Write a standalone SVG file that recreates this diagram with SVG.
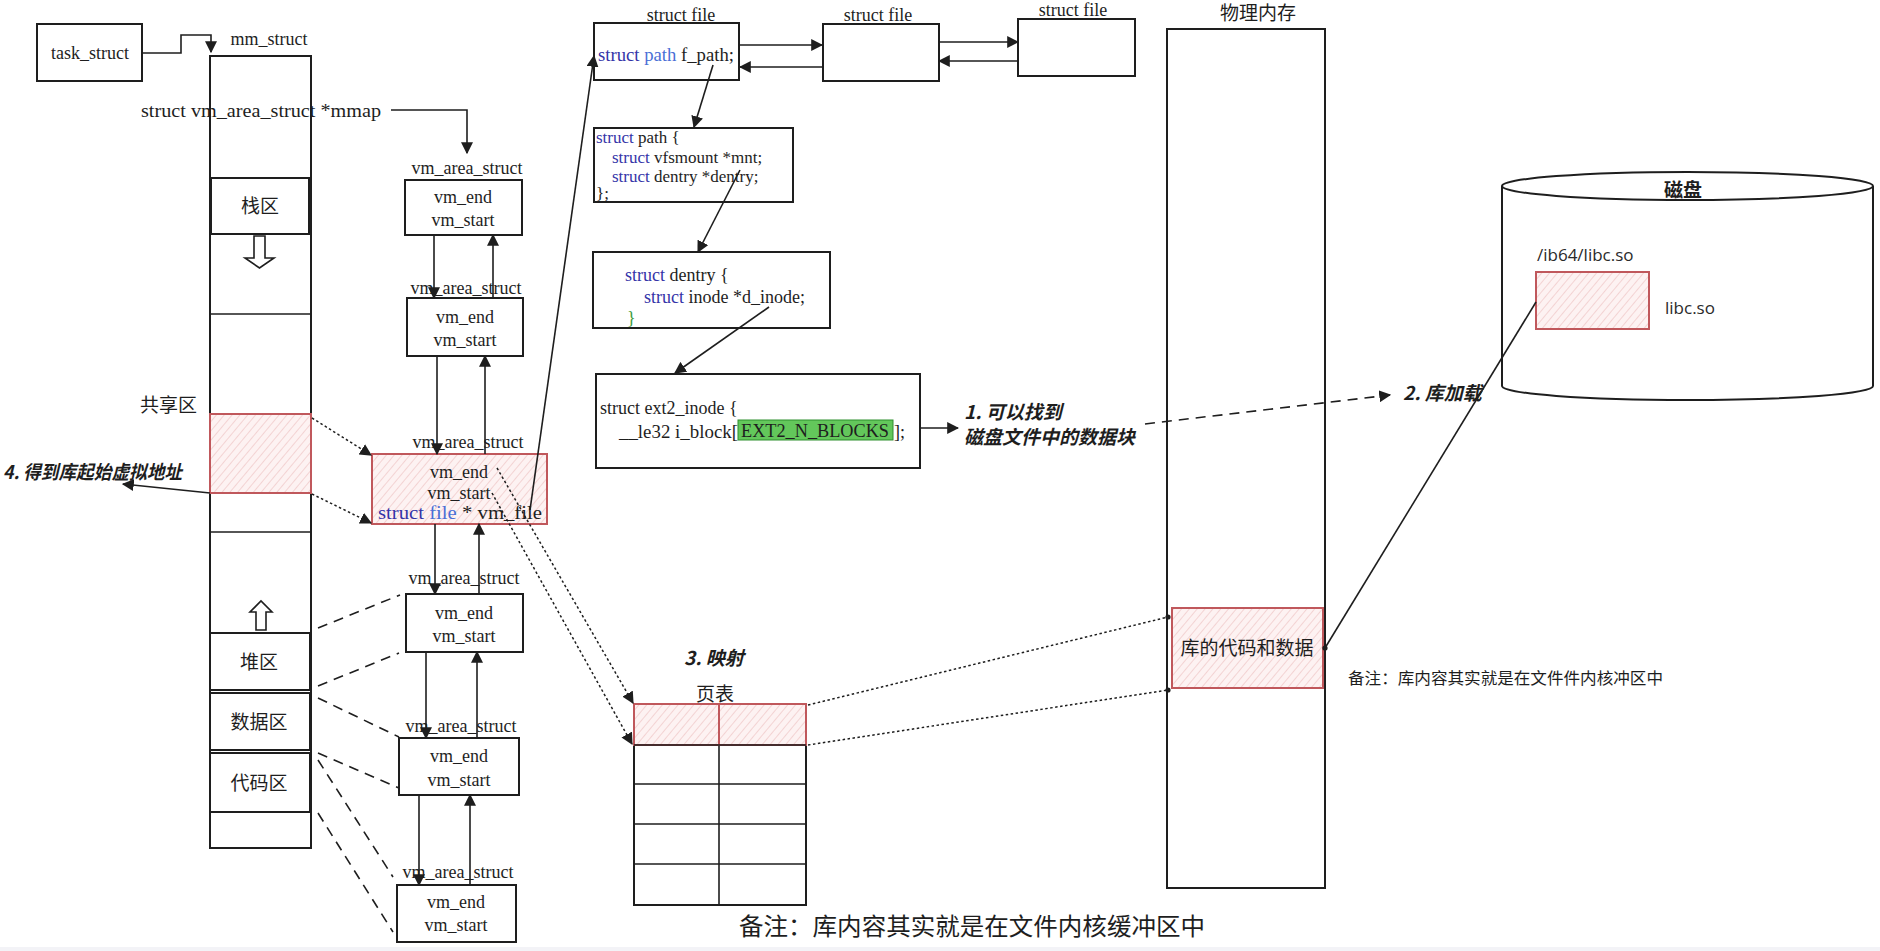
<svg xmlns="http://www.w3.org/2000/svg" width="1880" height="951" viewBox="0 0 1880 951">
<style>
.t{font-family:"Liberation Serif",serif;font-size:18px;fill:#1e1e1e}
.k{font-family:"Liberation Serif",serif;font-size:17px;fill:#1e1e1e}
.c{font-family:"Noto Sans CJK SC",sans-serif;font-size:19px;fill:#1e1e1e}
.b{font-family:"Noto Sans CJK SC",sans-serif;font-size:19px;font-weight:bold;font-style:italic;fill:#1e1e1e}
.o{font-family:"Open Sans",sans-serif;font-size:17px;fill:#2a2a2a}
.box{fill:#fff;stroke:#1e1e1e;stroke-width:2}
.red{fill:url(#hatch);stroke:#c0585c;stroke-width:2}
.ln{stroke:#1e1e1e;stroke-width:1.6;fill:none}
.dash{stroke-dasharray:10 7}
.dot{stroke-dasharray:2.5 2.5;stroke-width:1.5}
.kw{fill:#3434a8}
.ty{fill:#4a6fd6}
</style>
<defs>
<pattern id="hatch" patternUnits="userSpaceOnUse" width="6" height="6" patternTransform="rotate(40)">
<rect width="6" height="6" fill="#fdf2f2"/>
<line x1="0" y1="0" x2="0" y2="6" stroke="#f0c6c6" stroke-width="1.4"/>
</pattern>
<marker id="ah" markerUnits="userSpaceOnUse" markerWidth="12" markerHeight="12" viewBox="0 0 10 10" refX="9" refY="5" orient="auto">
<path d="M0,0 L10,5 L0,10 z" fill="#1e1e1e"/>
</marker>
<marker id="dt" markerUnits="userSpaceOnUse" markerWidth="6" markerHeight="6" viewBox="0 0 6 6" refX="3" refY="3">
<circle cx="3" cy="3" r="2.6" fill="#1e1e1e"/>
</marker>
</defs>
<rect width="1880" height="951" fill="#fff"/>
<rect y="947" width="1880" height="4" fill="#f3f3f7"/>

<g id="task_struct">
<rect class="box" x="37" y="24" width="105" height="57"/>
<text class="t" x="90" y="59" text-anchor="middle">task_struct</text>
</g>

<g id="mm_struct">
<text class="t" x="269" y="45" text-anchor="middle">mm_struct</text>
<rect class="box" x="210" y="56" width="101" height="792"/>
<text class="t" x="141" y="117" textLength="240" lengthAdjust="spacingAndGlyphs">struct vm_area_struct *mmap</text>
<rect class="box" x="211" y="178" width="98" height="56"/>
<text class="c" x="260" y="213" text-anchor="middle">栈区</text>
<path d="M254,236 H265 V258 H274 L259.5,268 L245,258 H254 Z" fill="#fff" stroke="#1e1e1e" stroke-width="1.6"/>
<line class="ln" x1="210" y1="314" x2="311" y2="314" stroke-width="2"/>
<text class="c" x="197" y="412" text-anchor="end">共享区</text>
<rect class="red" x="210" y="414" width="101" height="79"/>
<line class="ln" x1="210" y1="532" x2="311" y2="532" stroke-width="2"/>
<path d="M256,630 V612 H250 L261,601 L272,612 H266 V630 Z" fill="#fff" stroke="#1e1e1e" stroke-width="1.6"/>
<rect class="box" x="210" y="633" width="100" height="57"/>
<text class="c" x="259" y="669" text-anchor="middle">堆区</text>
<rect class="box" x="210" y="693" width="100" height="57"/>
<text class="c" x="259" y="729" text-anchor="middle">数据区</text>
<rect class="box" x="210" y="753" width="100" height="59"/>
<text class="c" x="259" y="790" text-anchor="middle">代码区</text>
</g>

<g id="label4">
<text class="b" x="3" y="479" textLength="179" lengthAdjust="spacingAndGlyphs">4. 得到库起始虚拟地址</text>
</g>

<g id="vma1">
<text class="t" x="467" y="174" text-anchor="middle">vm_area_struct</text>
<rect class="box" x="405" y="180" width="117" height="55"/>
<text class="t" x="463" y="203" text-anchor="middle">vm_end</text>
<text class="t" x="463" y="226" text-anchor="middle">vm_start</text>
</g>
<g id="vma2">
<text class="t" x="466" y="294" text-anchor="middle">vm_area_struct</text>
<rect class="box" x="407" y="298" width="116" height="58"/>
<text class="t" x="465" y="323" text-anchor="middle">vm_end</text>
<text class="t" x="465" y="346" text-anchor="middle">vm_start</text>
</g>
<g id="vma3">
<text class="t" x="468" y="448" text-anchor="middle">vm_area_struct</text>
<rect class="red" x="372" y="454" width="175" height="70"/>
<text class="t" x="459" y="478" text-anchor="middle">vm_end</text>
<text class="t" x="459" y="499" text-anchor="middle">vm_start</text>
<text class="t" x="378" y="519" textLength="164" lengthAdjust="spacingAndGlyphs"><tspan class="kw">struct</tspan><tspan class="ty"> file</tspan> * vm_file</text>
</g>
<g id="vma4">
<text class="t" x="464" y="584" text-anchor="middle">vm_area_struct</text>
<rect class="box" x="406" y="594" width="117" height="58"/>
<text class="t" x="464" y="619" text-anchor="middle">vm_end</text>
<text class="t" x="464" y="642" text-anchor="middle">vm_start</text>
</g>
<g id="vma5">
<text class="t" x="461" y="732" text-anchor="middle">vm_area_struct</text>
<rect class="box" x="399" y="738" width="120" height="57"/>
<text class="t" x="459" y="762" text-anchor="middle">vm_end</text>
<text class="t" x="459" y="786" text-anchor="middle">vm_start</text>
</g>
<g id="vma6">
<text class="t" x="458" y="878" text-anchor="middle">vm_area_struct</text>
<rect class="box" x="397" y="885" width="119" height="57"/>
<text class="t" x="456" y="908" text-anchor="middle">vm_end</text>
<text class="t" x="456" y="931" text-anchor="middle">vm_start</text>
</g>

<g id="file1">
<text class="t" x="681" y="21" text-anchor="middle">struct file</text>
<rect class="box" x="594" y="23" width="145" height="57"/>
<text class="t" x="598" y="61" textLength="136" lengthAdjust="spacingAndGlyphs"><tspan class="kw">struct</tspan><tspan class="ty"> path</tspan> f_path;</text>
</g>
<g id="file2">
<text class="t" x="878" y="21" text-anchor="middle">struct file</text>
<rect class="box" x="823" y="24" width="116" height="57"/>
</g>
<g id="file3">
<text class="t" x="1073" y="16" text-anchor="middle">struct file</text>
<rect class="box" x="1018" y="19" width="117" height="57"/>
</g>

<g id="path_struct">
<rect class="box" x="594" y="128" width="199" height="74"/>
<text class="k" x="596" y="143"><tspan class="kw">struct</tspan> path {</text>
<text class="k" x="612" y="163"><tspan class="kw">struct</tspan> vfsmount *mnt;</text>
<text class="k" x="612" y="182"><tspan class="kw">struct</tspan> dentry *dentry;</text>
<text class="k" x="596" y="199">};</text>
</g>

<g id="dentry_struct">
<rect class="box" x="593" y="252" width="237" height="76"/>
<text class="t" x="625" y="281"><tspan class="kw">struct</tspan> dentry {</text>
<text class="t" x="644" y="303"><tspan class="kw">struct</tspan> inode *d_inode;</text>
<text class="t" x="627" y="324" style="fill:#3a9a3a">}</text>
</g>

<g id="ext2_inode">
<rect class="box" x="596" y="374" width="324" height="94"/>
<text class="t" x="600" y="414">struct ext2_inode {</text>
<text class="t" x="619" y="438" textLength="119" lengthAdjust="spacingAndGlyphs">__le32 i_block[</text>
<rect x="738" y="420" width="155" height="20" fill="#63c75b" stroke="#2f8f2f" stroke-width="1"/>
<text class="t" x="741" y="437" textLength="148" lengthAdjust="spacingAndGlyphs">EXT2_N_BLOCKS</text>
<text class="t" x="894" y="438">];</text>
</g>

<g id="label1">
<text class="b" x="964" y="419">1. 可以找到</text>
<text class="b" x="964" y="444">磁盘文件中的数据块</text>
</g>
<g id="label2">
<text class="b" x="1403" y="400">2. 库加载</text>
</g>
<g id="label3">
<text class="b" x="684" y="665">3. 映射</text>
</g>

<g id="page_table">
<text class="c" x="715" y="701" text-anchor="middle">页表</text>
<rect class="box" x="634" y="704" width="172" height="201"/>
<line class="ln" x1="634" y1="784" x2="806" y2="784" stroke-width="2"/>
<line class="ln" x1="634" y1="824" x2="806" y2="824" stroke-width="2"/>
<line class="ln" x1="634" y1="864" x2="806" y2="864" stroke-width="2"/>
<line class="ln" x1="719" y1="745" x2="719" y2="905" stroke-width="2"/>
<rect class="red" x="634" y="704" width="172" height="41"/>
<line x1="719" y1="704" x2="719" y2="745" stroke="#c0585c" stroke-width="2"/>
<line class="ln" x1="634" y1="745" x2="806" y2="745" stroke-width="2"/>
</g>

<g id="phys_mem">
<text class="c" x="1258" y="20" text-anchor="middle">物理内存</text>
<rect class="box" x="1167" y="29" width="158" height="859"/>
<rect class="red" x="1172" y="608" width="151" height="80"/>
<text class="c" x="1247" y="655" text-anchor="middle">库的代码和数据</text>
</g>

<g id="disk">
<path d="M1502,186 V386 A185.5,14 0 0 0 1873,386 V186" fill="#fff" stroke="#1e1e1e" stroke-width="2"/>
<ellipse cx="1687.5" cy="186" rx="185.5" ry="14" fill="#fff" stroke="#1e1e1e" stroke-width="2"/>
<text class="c" x="1683" y="197" text-anchor="middle" font-weight="bold">磁盘</text>
<text class="o" x="1537" y="261">/ib64/libc.so</text>
<rect class="red" x="1536" y="272" width="113" height="57"/>
<text class="o" x="1665" y="314">libc.so</text>
</g>

<g id="notes">
<text class="c" x="1348" y="684" style="font-size:16px" textLength="315" lengthAdjust="spacingAndGlyphs">备注：库内容其实就是在文件件内核冲区中</text>
<text class="c" x="739" y="935" style="font-size:24px" textLength="466" lengthAdjust="spacingAndGlyphs">备注：库内容其实就是在文件内核缓冲区中</text>
</g>

<g id="connectors">
<path class="ln" d="M142,53 H181 V35 H211 V52" marker-end="url(#ah)"/>
<path class="ln" d="M391,110 H467 V153" marker-end="url(#ah)"/>
<line class="ln" x1="434" y1="235" x2="434" y2="298" marker-end="url(#ah)"/>
<line class="ln" x1="493" y1="298" x2="493" y2="235" marker-end="url(#ah)"/>
<line class="ln" x1="437" y1="356" x2="437" y2="454" marker-end="url(#ah)"/>
<line class="ln" x1="485" y1="454" x2="485" y2="356" marker-end="url(#ah)"/>
<line class="ln" x1="435" y1="524" x2="435" y2="594" marker-end="url(#ah)"/>
<line class="ln" x1="479" y1="594" x2="479" y2="524" marker-end="url(#ah)"/>
<line class="ln" x1="426" y1="652" x2="426" y2="738" marker-end="url(#ah)"/>
<line class="ln" x1="477" y1="738" x2="477" y2="652" marker-end="url(#ah)"/>
<line class="ln" x1="419" y1="795" x2="419" y2="885" marker-end="url(#ah)"/>
<line class="ln" x1="470" y1="885" x2="470" y2="795" marker-end="url(#ah)"/>
<line class="ln" x1="210" y1="493" x2="123" y2="484" marker-end="url(#ah)"/>
<line class="ln dot" x1="312" y1="418" x2="371" y2="455" marker-end="url(#ah)"/>
<line class="ln dot" x1="312" y1="494" x2="371" y2="523" marker-end="url(#ah)"/>
<line class="ln dash" x1="318" y1="628" x2="400" y2="595"/>
<line class="ln dash" x1="318" y1="686" x2="399" y2="653"/>
<line class="ln dash" x1="318" y1="698" x2="399" y2="737"/>
<line class="ln dash" x1="318" y1="753" x2="399" y2="788"/>
<line class="ln dash" x1="318" y1="760" x2="393" y2="877"/>
<line class="ln dash" x1="318" y1="813" x2="393" y2="932"/>
<line class="ln" x1="530" y1="510" x2="594" y2="56" marker-end="url(#ah)"/>
<line class="ln dot" x1="497" y1="468" x2="633" y2="703" marker-end="url(#ah)"/>
<line class="ln dot" x1="492" y1="493" x2="632" y2="744" marker-end="url(#ah)"/>
<line class="ln" x1="739" y1="45" x2="822" y2="45" marker-end="url(#ah)"/>
<line class="ln" x1="823" y1="67" x2="740" y2="67" marker-end="url(#ah)"/>
<line class="ln" x1="939" y1="42" x2="1018" y2="42" marker-end="url(#ah)"/>
<line class="ln" x1="1018" y1="61" x2="939" y2="61" marker-end="url(#ah)"/>
<line class="ln" x1="713" y1="65" x2="694" y2="127" marker-end="url(#ah)"/>
<line class="ln" x1="740" y1="170" x2="698" y2="252" marker-end="url(#ah)"/>
<line class="ln" x1="769" y1="307" x2="675" y2="373" marker-end="url(#ah)"/>
<line class="ln" x1="920" y1="428" x2="958" y2="428" marker-end="url(#ah)"/>
<line class="ln dash" x1="1145" y1="424" x2="1390" y2="395" marker-end="url(#ah)"/>
<line class="ln dot" x1="808" y1="705" x2="1168" y2="617" marker-end="url(#dt)"/>
<line class="ln dot" x1="808" y1="745" x2="1168" y2="690" marker-end="url(#dt)"/>
<line class="ln" x1="1325" y1="648" x2="1536" y2="302" marker-start="url(#dt)"/>
</g>
</svg>
